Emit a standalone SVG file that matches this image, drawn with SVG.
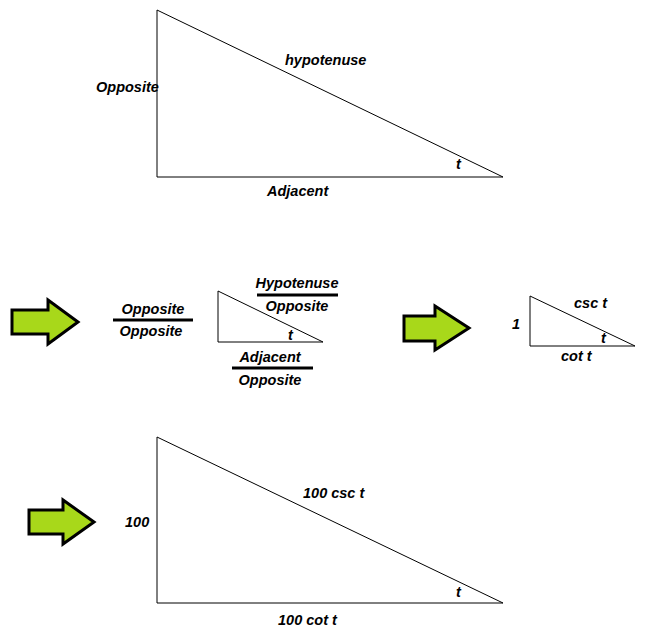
<svg xmlns="http://www.w3.org/2000/svg" width="654" height="639" viewBox="0 0 654 639">
<style>
text{font-family:"Liberation Sans",Arial,sans-serif;font-weight:bold;font-style:italic;font-size:14.5px;fill:#000}
.m{text-anchor:middle}
.tri{fill:#fff;stroke:#000;stroke-width:1}
.bar{stroke:#000;stroke-width:3}
.arr{fill:#a8d81a;stroke:#000;stroke-width:3;stroke-linejoin:miter}
</style>
<rect width="654" height="639" fill="#fff"/>
<g id="tri1">
<polygon class="tri" points="157,10 157,177 503,177"/>
<text x="96" y="92">Opposite</text>
<text x="285" y="65">hypotenuse</text>
<text x="267" y="196">Adjacent</text>
<text x="456" y="169">t</text>
</g>
<g id="arrow1"><polygon class="arr" points="12,310 48,310 48,300 78,322 48,344 48,334 12,334"/></g>
<g id="frac1">
<text class="m" x="153" y="314">Opposite</text>
<line class="bar" x1="113" y1="320" x2="193" y2="320"/>
<text class="m" x="151" y="336">Opposite</text>
</g>
<g id="tri2">
<polygon class="tri" points="218,291 218,342 323,342"/>
<text x="288" y="340">t</text>
<text class="m" x="297" y="288">Hypotenuse</text>
<line class="bar" x1="257" y1="295" x2="338" y2="295"/>
<text class="m" x="297" y="311">Opposite</text>
<text class="m" x="270" y="362">Adjacent</text>
<line class="bar" x1="232" y1="368" x2="313" y2="368"/>
<text class="m" x="270" y="385">Opposite</text>
</g>
<g id="arrow2"><polygon class="arr" points="404,316 435,316 435,306 469,328 435,350 435,341 404,341"/></g>
<g id="tri3">
<polygon class="tri" points="530,296 530,346 635,346"/>
<text x="574" y="308">csc t</text>
<text x="512" y="329">1</text>
<text x="601" y="343">t</text>
<text x="561" y="361">cot t</text>
</g>
<g id="arrow3"><polygon class="arr" points="29,510 63,510 63,500 94,522 63,544 63,534 29,534"/></g>
<g id="tri4">
<polygon class="tri" points="157,437 157,603 503,603"/>
<text x="125" y="527">100</text>
<text x="303" y="498">100 csc t</text>
<text x="456" y="597">t</text>
<text x="278" y="625">100 cot t</text>
</g>
</svg>
